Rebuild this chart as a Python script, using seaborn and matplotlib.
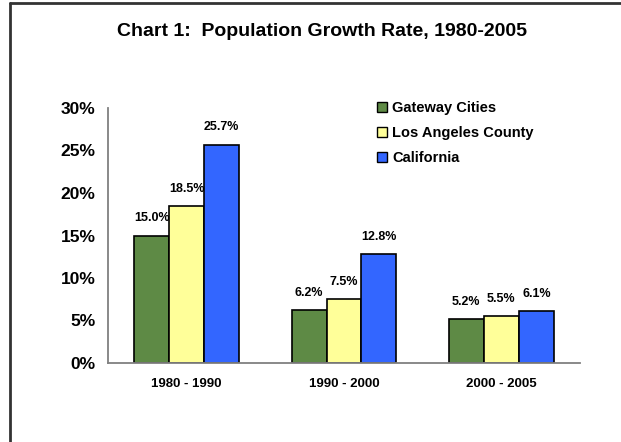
import matplotlib
matplotlib.use("Agg")
import matplotlib.pyplot as plt
import matplotlib.ticker as mtick
from matplotlib.lines import Line2D
from matplotlib.patches import Patch
import pandas as pd
import seaborn as sns

periods = ['1980 - 1990', '1990 - 2000', '2000 - 2005']
regions = ['Gateway Cities', 'Los Angeles County', 'California']
gateway = [15.0, 6.2, 5.2]
la_county = [18.5, 7.5, 5.5]
california = [25.7, 12.8, 6.1]
colors = ['#5E8A45', '#FFFF99', '#3366FF']

rows = []
for name, vals in zip(regions, [gateway, la_county, california]):
    for p, v in zip(periods, vals):
        rows.append({'period': p, 'region': name, 'rate': v / 100})
df = pd.DataFrame(rows)

sns.set_theme(style="white")
plt.rcParams['font.family'] = ['Liberation Sans', 'DejaVu Sans']
plt.rcParams['text.color'] = 'black'

fig = plt.figure(figsize=(6.21, 4.42), dpi=100)
ax = fig.add_axes([108/621, 1 - 363/442, 472/621, 255/442])

sns.barplot(data=df, x='period', y='rate', hue='region', palette=colors,
            saturation=1, edgecolor='black', linewidth=1.2, width=0.667,
            gap=0, ax=ax, legend=False)

for cont in ax.containers:
    ax.bar_label(cont, labels=[f'{b.get_height()*100:.1f}%' for b in cont],
                 padding=8, fontsize=9, fontweight='bold', color='black')

ax.set_xlim(-0.5, 2.5)
ax.set_ylim(0, 0.30)
ax.set_yticks([0, 0.05, 0.10, 0.15, 0.20, 0.25, 0.30])
ax.yaxis.set_major_formatter(mtick.PercentFormatter(1.0, decimals=0))
ax.set_xlabel('')
ax.set_ylabel('')
ax.tick_params(axis='y', length=0, pad=9, labelsize=12.5)
ax.tick_params(axis='x', length=0, pad=11, labelsize=9.5)
for lab in ax.get_yticklabels() + ax.get_xticklabels():
    lab.set_fontweight('bold')
    lab.set_color('black')

for side in ['top', 'right']:
    ax.spines[side].set_visible(False)
for side in ['left', 'bottom']:
    ax.spines[side].set_color('#808080')
    ax.spines[side].set_linewidth(1.3)

handles = [Patch(facecolor=c, edgecolor='black', linewidth=1.0) for c in colors]
leg = fig.legend(handles, regions, loc='upper left',
                 bbox_to_anchor=(364/621, 1 - 88/442), frameon=False,
                 handlelength=0.65, handleheight=0.65, handletextpad=0.4,
                 labelspacing=0.75, prop={'weight': 'bold', 'size': 10.5})

fig.text(322/621, 1 - 31/442, 'Chart 1:  Population Growth Rate, 1980-2005',
         ha='center', va='center', fontsize=14, fontweight='bold', color='black')

fig.add_artist(Line2D([10/621, 10/621], [0, 1 - 3/442], color='#333333', lw=2))
fig.add_artist(Line2D([10/621, 1], [1 - 3/442, 1 - 3/442], color='#333333', lw=2))

fig.savefig('out.png', dpi=100)
